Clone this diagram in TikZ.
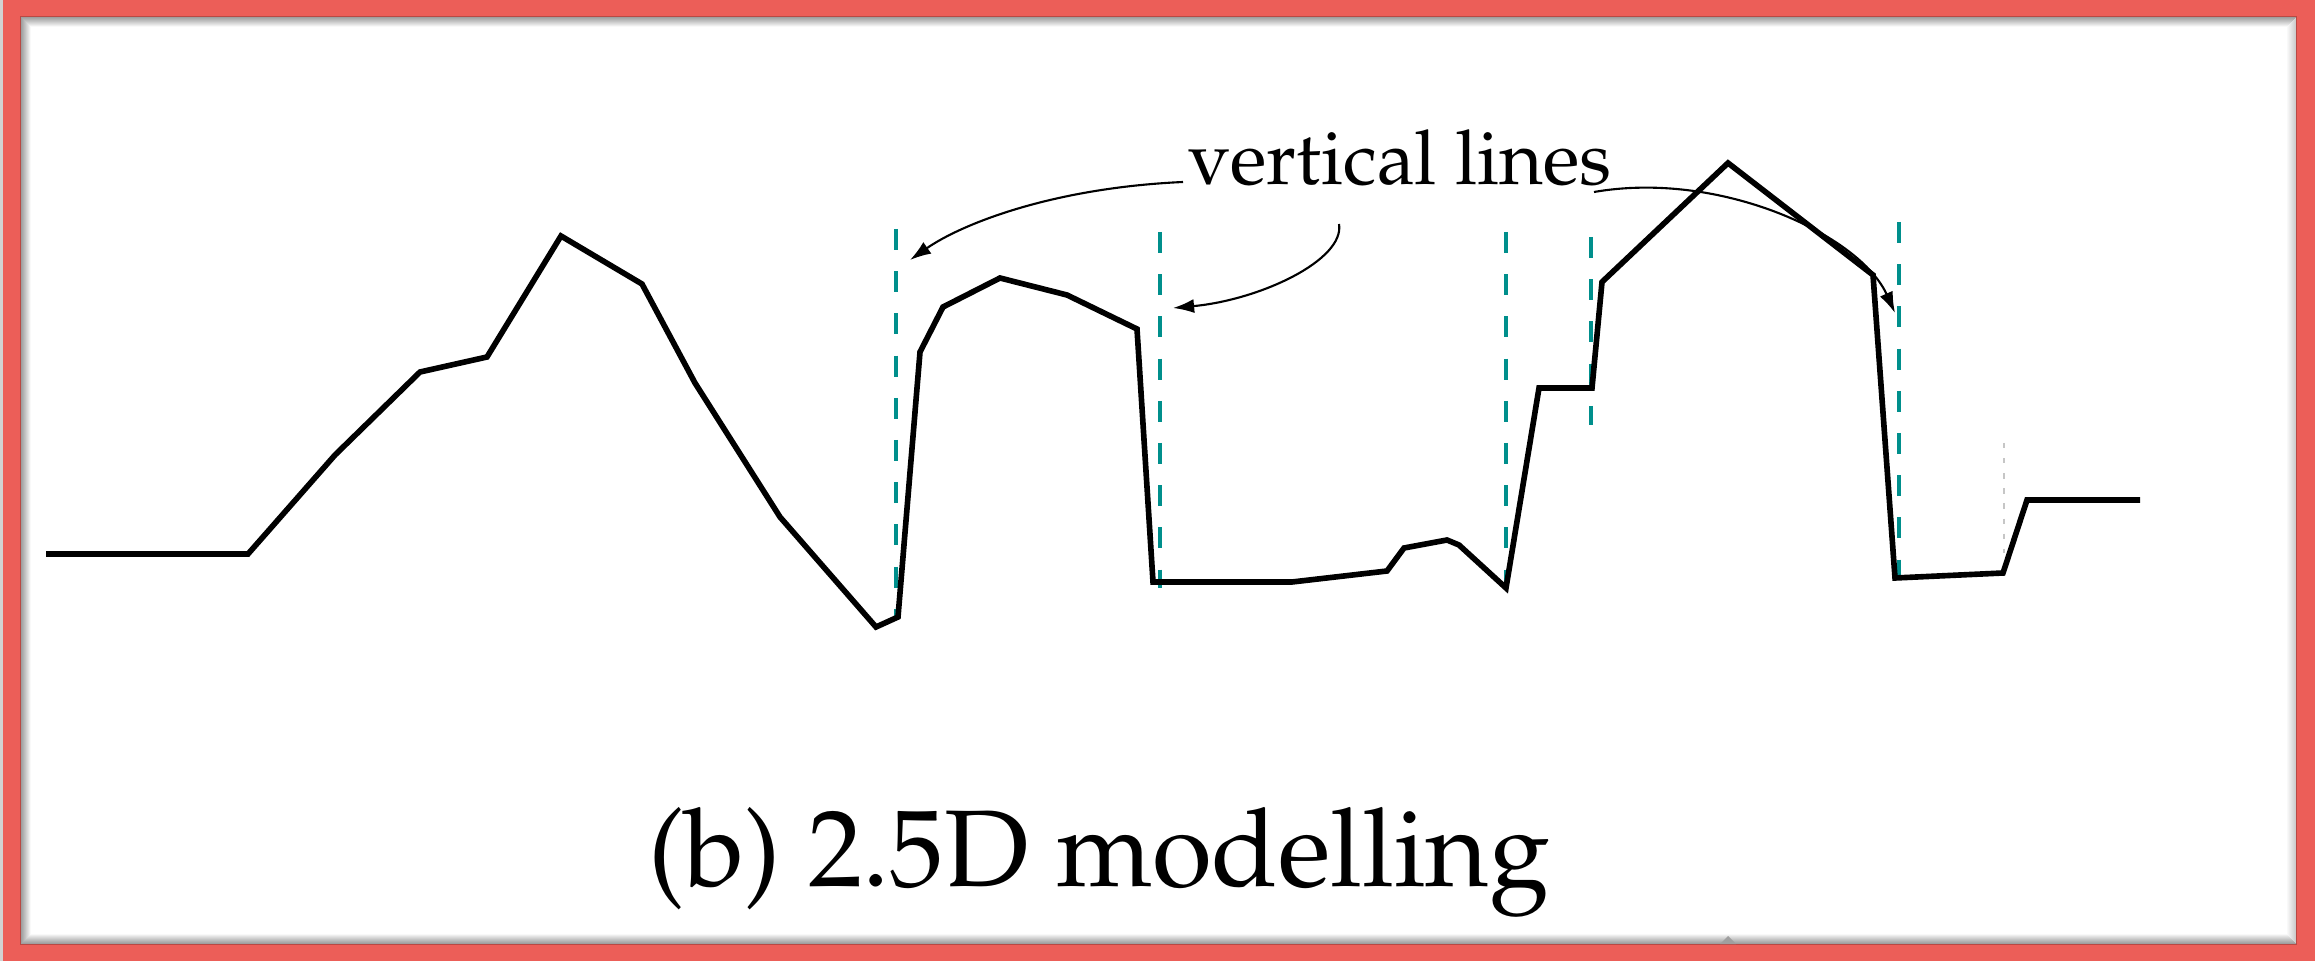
\documentclass[tikz,border=0pt]{standalone}
\usepackage[T1]{fontenc}
\usepackage{mathpazo}
\usetikzlibrary{arrows.meta}

\definecolor{framered}{HTML}{EC5E58}
\definecolor{vlcyan}{HTML}{008F8C}

\begin{document}
\begin{tikzpicture}[x=0.01cm,y=-0.01cm,>={Latex[length=6pt,width=4pt]},
  profile/.style={line width=1.6pt,line join=miter},
  vline/.style={vlcyan,line width=1.25pt,dash pattern=on 6pt off 6pt},
  callout/.style={->,line width=0.6pt}]
  \useasboundingbox (0,0) rectangle (2315,961);
  % frame
  \fill[framered] (0,0) rectangle (2315,961);
  \fill[gray!35] (0,0) rectangle (3,961);
  \fill[white] (21,17) rectangle (2296,944);
  \foreach \i [evaluate=\i as \op using 0.22-0.022*\i] in {0,...,9}
    \draw[black,opacity=\op,line width=0.3pt] (21+\i,17+\i) rectangle (2296-\i,944-\i);
  \fill[gray!75] (1720,944) -- (1728,936) -- (1736,944) -- cycle;
  % vertical lines
  \draw[vline] (896,229) -- (896,620);
  \draw[vline] (1160,232) -- (1160,588);
  \draw[vline] (1506,232) -- (1506,582);
  \draw[vline] (1591,237) -- (1591,425);
  \draw[vline] (1899,222) -- (1899,577);
  \draw[gray!45,line width=0.6pt,dash pattern=on 1.5pt off 2.8pt] (2004,443) -- (2004,553);
  % 2.5D profile
  \draw[profile] (46,554) -- (248,554) -- (335,455) -- (420,372) -- (487,357)
    -- (561,236) -- (642,284) -- (695,383) -- (780,517) -- (876,627) -- (898,617)
    -- (920,352) -- (943,307) -- (1000,278) -- (1067,295) -- (1137,329)
    -- (1153,582) -- (1292,582) -- (1387,571) -- (1404,548) -- (1447,540)
    -- (1459,545) -- (1506,588) -- (1539,388) -- (1592,388) -- (1602,282)
    -- (1728,163) -- (1873,275) -- (1895,578) -- (2003,573) -- (2027,500)
    -- (2140,500);
  % labels
  \node[anchor=base,inner sep=0pt,font=\fontsize{21.5}{25}\selectfont] (vlabel) at (1400,185) {vertical lines};
  \node[anchor=base,inner sep=0pt,font=\fontsize{31}{36}\selectfont] (caption) at (1099,886) {(b) 2.5D modelling};
  \coordinate (s1) at (1183,182);
  \coordinate (s2) at (1339,224);
  \coordinate (s3) at (1594,192);
  \coordinate (t1) at (910,260);
  \coordinate (t2) at (1173,308);
  \coordinate (t3) at (1895,313);
  \draw[callout] (s1) .. controls (1050,188) and (960,225) .. (t1);
  \draw[callout] (s2) .. controls (1345,260) and (1260,300) .. (t2);
  \draw[callout] (s3) .. controls (1720,170) and (1860,235) .. (t3);
\end{tikzpicture}
\end{document}
